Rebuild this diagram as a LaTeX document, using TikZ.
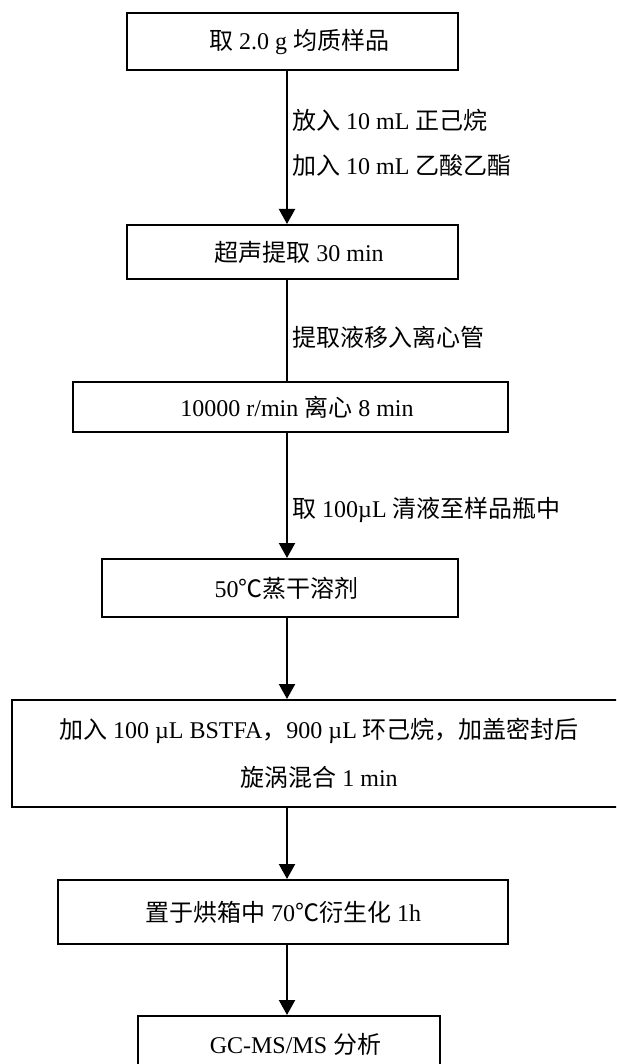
\documentclass[tikz,border=0pt]{standalone}
\usepackage{fontspec}
\setmainfont{Liberation Serif}
\newfontfamily\cjk{Noto Sans CJK SC}
\newcommand{\zh}[1]{{\cjk #1}}
\newcommand{\rs}{\hspace*{13pt}}
\usetikzlibrary{arrows.meta}
\begin{document}
\begin{tikzpicture}[x=1pt,y=-1pt,
  box/.style={draw, line width=2pt, inner sep=0pt, align=center,
    font=\fontsize{24}{48}\selectfont},
  lbl/.style={anchor=west, inner sep=0pt, font=\fontsize{24}{28}\selectfont},
  conn/.style={line width=2.2pt},
  arr/.style={conn, -{Triangle[length=15pt,width=16pt]}}]
\useasboundingbox (0,0) rectangle (616,1064);
\clip (0,0) rectangle (616,1064);
\coordinate (ax) at (287,0);
\node[box, minimum width=331pt, minimum height=57pt] (b1) at (292.5,41.5) {\rs\zh{取} 2.0 g \zh{均质样品}};
\node[box, minimum width=331pt, minimum height=54pt] (b2) at (292.5,252) {\rs\zh{超声提取} 30 min};
\node[box, minimum width=435pt, minimum height=50pt] (b3) at (290.5,407) {\rs 10000 r/min \zh{离心} 8 min};
\node[box, minimum width=356pt, minimum height=58pt] (b4) at (280,588) {\rs 50\zh{℃蒸干溶剂}};
\node[box, minimum width=614pt, minimum height=107pt] (b5) at (319,753.5) {\zh{加入} 100 µL BSTFA\zh{，}900 µL \zh{环己烷，加盖密封后}\\\zh{旋涡混合} 1 min};
\node[box, minimum width=450pt, minimum height=64pt] (b6) at (283,912) {\zh{置于烘箱中} 70\zh{℃衍生化} 1h};
\node[box, minimum width=302pt, minimum height=56pt] (b7) at (289,1044) {\rs GC-MS/MS \zh{分析}};
\node[lbl] (l1) at (292,120) {\zh{放入} 10 mL \zh{正己烷}};
\node[lbl] (l2) at (292,165) {\zh{加入} 10 mL \zh{乙酸乙酯}};
\node[lbl] (l3) at (292,337) {\zh{提取液移入离心管}};
\node[lbl] (l4) at (292,510) {\zh{取} 100µL \zh{清液至样品瓶中}};
\draw[arr] (b1.south -| ax) -- (b2.north -| ax);
\draw[conn] (b2.south -| ax) -- (b3.north -| ax);
\draw[arr] (b3.south -| ax) -- (b4.north -| ax);
\draw[arr] (b4.south -| ax) -- (b5.north -| ax);
\draw[arr] (b5.south -| ax) -- (b6.north -| ax);
\draw[arr] (b6.south -| ax) -- (b7.north -| ax);
\end{tikzpicture}
\end{document}
